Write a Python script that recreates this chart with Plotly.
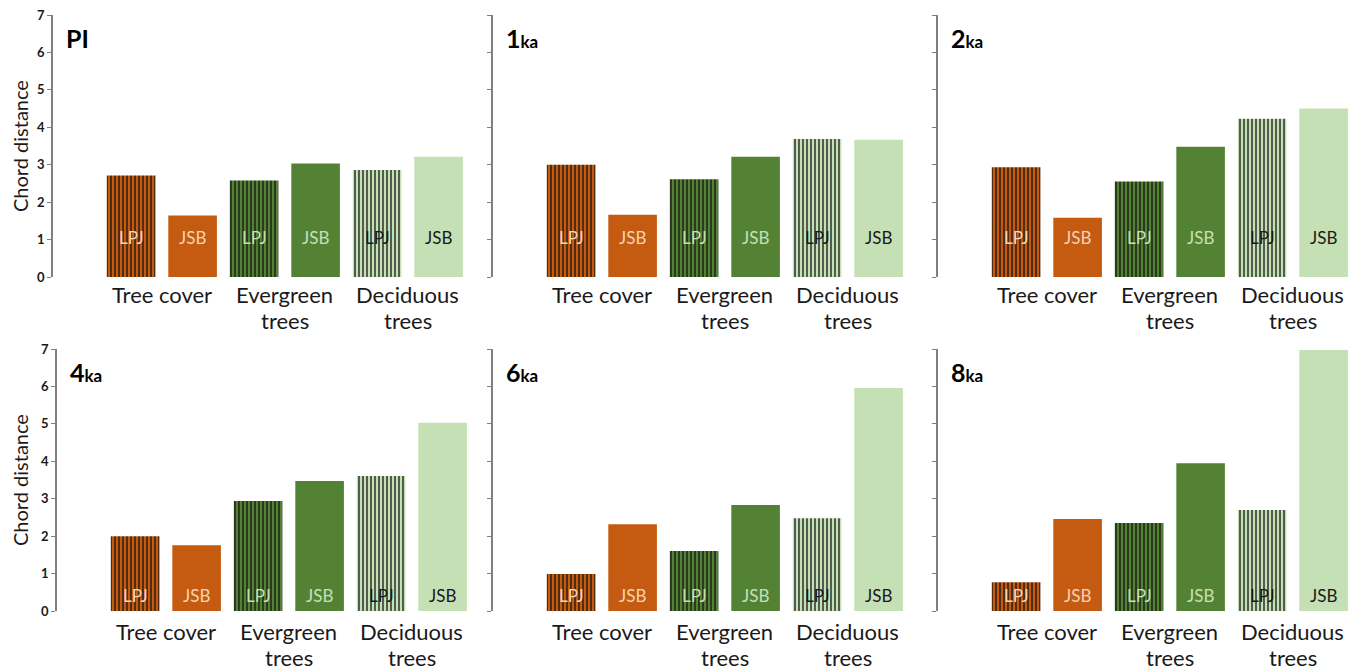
import plotly.graph_objects as go

# ---- data ----
panels = ["PI", "1ka", "2ka", "4ka", "6ka", "8ka"]
bar_models = ["LPJ", "JSB", "LPJ", "JSB", "LPJ", "JSB"]
categories = [["Tree cover"], ["Evergreen", "trees"], ["Deciduous", "trees"]]
lpj_tree = [2.71, 3.00, 2.93, 2.00, 0.99, 0.77]
jsb_tree = [1.64, 1.66, 1.58, 1.76, 2.32, 2.46]
lpj_ever = [2.58, 2.61, 2.55, 2.94, 1.60, 2.35]
jsb_ever = [3.03, 3.21, 3.48, 3.47, 2.83, 3.95]
lpj_dec = [2.86, 3.69, 4.23, 3.61, 2.48, 2.70]
jsb_dec = [3.21, 3.67, 4.50, 5.03, 5.96, 6.97]
y_ticks = [0, 1, 2, 3, 4, 5, 6, 7]

# ---- styles ----
ORANGE = "#C55A11"
DGREEN = "#548235"
LGREEN = "#C5E0B4"
bar_colors = [ORANGE, ORANGE, DGREEN, DGREEN, LGREEN, LGREEN]
hatched = [True, False, True, False, True, False]
label_colors = ["#F3D9BC", "#F6D3B5", "#C5E0B4", "#C5E0B4", "#1A1A1A", "#1A1A1A"]
FONT = "Lato"
W, H = 1359, 672

# pixel layout of panels: (axis x left px, y0 px, y7 px)
xs_left = [53, 493, 938, 57, 493, 938]
ys = [(277, 15), (277, 15), (277, 15), (611, 349), (611, 349), (611, 349)]
XR = [-1.27, 5.55]
PITCH = 61.5
panel_w = (XR[1] - XR[0]) * PITCH

fig = go.Figure()
annotations = []
layout = dict(
    width=W, height=H, margin=dict(l=0, r=0, t=0, b=0, autoexpand=False),
    paper_bgcolor="white", plot_bgcolor="white", showlegend=False,
    bargap=0.2,
)

for p in range(6):
    values = [lpj_tree[p], jsb_tree[p], lpj_ever[p], jsb_ever[p], lpj_dec[p], jsb_dec[p]]
    sfx = "" if p == 0 else str(p + 1)
    xa, ya = "x" + sfx, "y" + sfx
    y0px, y7px = ys[p]
    for i in range(6):
        marker = dict(color=bar_colors[i], line=dict(width=0))
        if hatched[i]:
            marker["pattern"] = dict(shape="|", fgcolor="#111111", bgcolor=bar_colors[i],
                                     size=4, solidity=0.32, fillmode="replace")
        fig.add_trace(go.Bar(x=[i], y=[values[i]], width=0.79, marker=marker,
                             xaxis=xa, yaxis=ya, hoverinfo="skip"))
        # bar label
        annotations.append(dict(x=i, y=(1.06 if p < 3 else 0.41), xref=xa, yref=ya,
                                text=bar_models[i], showarrow=False,
                                font=dict(family=FONT, size=17, color=label_colors[i])))
    # category labels (below the axis, in paper coordinates)
    base_px = y0px + (17 if p < 3 else 20)
    for g, lines in enumerate(categories):
        for li, txt in enumerate(lines):
            annotations.append(dict(x=2 * g + 0.5, y=1 - (base_px + 26 * li) / H,
                                    xref=xa, yref="paper", yanchor="middle",
                                    text=txt, showarrow=False,
                                    font=dict(family=FONT, size=22, color="#1A1A1A")))
    # panel title
    t = panels[p]
    if t == "PI":
        ttxt = "<b>PI</b>"
    else:
        ttxt = "<b>" + t[:-2] + "<span style='font-size:17px'>" + t[-2:] + "</span></b>"
    annotations.append(dict(x=(xs_left[p] + 11) / W, y=1 - (y7px + 23) / H,
                            xref="paper", yref="paper", xanchor="left", yanchor="middle",
                            text=ttxt, showarrow=False,
                            font=dict(family=FONT, size=25, color="black")))
    x0 = xs_left[p] / W
    layout["xaxis" + sfx] = dict(domain=[x0, x0 + panel_w / W], range=XR, anchor=ya,
                                 showline=False, showgrid=False, zeroline=False,
                                 showticklabels=False, ticks="", fixedrange=True,
                                 automargin=False)
    first_col = p in (0, 3)
    layout["yaxis" + sfx] = dict(domain=[1 - y0px / H, 1 - y7px / H], range=[0, 7],
                                 anchor=xa, tickvals=y_ticks,
                                 showticklabels=first_col, automargin=False,
                                 tickfont=dict(family=FONT, size=13, color="#1A1A1A", weight="bold"),
                                 showline=True, linecolor="#7F7F7F", linewidth=1.5,
                                 ticks="outside", ticklen=4, tickcolor="#7F7F7F", tickwidth=1,
                                 showgrid=False, zeroline=False, fixedrange=True)
    if first_col:
        annotations.append(dict(x=20 / W, y=1 - (y0px + y7px) / 2 / H, xref="paper", yref="paper",
                                xanchor="center", yanchor="middle",
                                text="Chord distance", textangle=-90, showarrow=False,
                                font=dict(family=FONT, size=20, color="#1A1A1A")))

layout["annotations"] = annotations
fig.update_layout(**layout)
fig.write_html("out.html")
